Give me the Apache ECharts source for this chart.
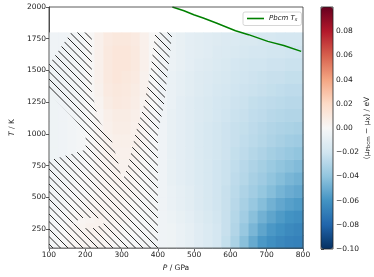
<!DOCTYPE html>
<html><head><meta charset="utf-8">
<script src="https://cdn.jsdelivr.net/npm/echarts@6/dist/echarts.min.js"></script>
<style>html,body{margin:0;padding:0;background:#fff}#c{width:374px;height:277px}</style>
</head><body><div id="c"></div>
<script>
// cell centres (GPa, K)
const pressures = [112.5,137.5,162.5,187.5,212.5,237.5,262.5,287.5,312.5,337.5,362.5,387.5,412.5,437.5,462.5,487.5,512.5,537.5,562.5,587.5,612.5,637.5,662.5,687.5,712.5,737.5,762.5,787.5];
const temperatures = [150,250,350,450,550,650,750,850,950,1050,1150,1250,1350,1450,1550,1650,1750];
// mu_Pbcm - mu_X (eV), one row per temperature (bottom to top)
const deltaMu = [
 [-0.002,0.000,0.002,0.003,0.003,0.003,0.002,0.001,0.000,-0.001,-0.002,-0.003,-0.004,-0.005,-0.007,-0.009,-0.012,-0.015,-0.018,-0.024,-0.032,-0.042,-0.051,-0.058,-0.062,-0.065,-0.067,-0.068],
 [-0.002,0.000,0.002,0.003,0.004,0.004,0.003,0.002,0.001,0.000,-0.001,-0.002,-0.004,-0.005,-0.007,-0.009,-0.012,-0.015,-0.018,-0.023,-0.030,-0.038,-0.046,-0.053,-0.058,-0.061,-0.064,-0.066],
 [-0.002,-0.001,0.001,0.002,0.003,0.004,0.003,0.003,0.002,0.000,-0.001,-0.002,-0.004,-0.006,-0.008,-0.010,-0.013,-0.016,-0.019,-0.023,-0.029,-0.035,-0.042,-0.048,-0.053,-0.057,-0.060,-0.062],
 [-0.003,-0.002,0.000,0.001,0.002,0.003,0.003,0.003,0.002,0.001,-0.001,-0.002,-0.004,-0.007,-0.009,-0.011,-0.014,-0.017,-0.020,-0.023,-0.028,-0.033,-0.038,-0.043,-0.048,-0.052,-0.055,-0.057],
 [-0.003,-0.002,-0.001,0.000,0.001,0.002,0.003,0.003,0.003,0.002,0.000,-0.002,-0.004,-0.007,-0.009,-0.011,-0.014,-0.017,-0.020,-0.023,-0.027,-0.031,-0.035,-0.039,-0.043,-0.047,-0.050,-0.052],
 [-0.004,-0.003,-0.002,0.000,0.001,0.002,0.003,0.004,0.003,0.002,0.000,-0.002,-0.004,-0.008,-0.010,-0.012,-0.015,-0.017,-0.020,-0.022,-0.026,-0.029,-0.033,-0.036,-0.040,-0.043,-0.046,-0.048],
 [-0.004,-0.003,-0.002,-0.001,0.000,0.002,0.003,0.004,0.004,0.003,0.001,-0.002,-0.004,-0.008,-0.010,-0.012,-0.015,-0.017,-0.020,-0.022,-0.025,-0.028,-0.031,-0.034,-0.037,-0.040,-0.042,-0.044],
 [-0.005,-0.004,-0.003,-0.002,0.000,0.002,0.004,0.005,0.005,0.004,0.001,-0.001,-0.004,-0.008,-0.010,-0.012,-0.015,-0.017,-0.019,-0.021,-0.024,-0.026,-0.029,-0.031,-0.034,-0.036,-0.038,-0.040],
 [-0.005,-0.004,-0.003,-0.002,0.000,0.002,0.004,0.006,0.006,0.005,0.002,-0.001,-0.004,-0.008,-0.010,-0.012,-0.015,-0.017,-0.019,-0.021,-0.023,-0.025,-0.027,-0.029,-0.031,-0.033,-0.035,-0.036],
 [-0.005,-0.004,-0.003,-0.002,0.000,0.002,0.005,0.007,0.007,0.005,0.002,-0.001,-0.004,-0.008,-0.010,-0.012,-0.015,-0.017,-0.019,-0.021,-0.023,-0.024,-0.026,-0.028,-0.030,-0.031,-0.032,-0.033],
 [-0.005,-0.004,-0.003,-0.002,0.000,0.002,0.006,0.008,0.008,0.006,0.002,-0.001,-0.004,-0.008,-0.010,-0.012,-0.014,-0.016,-0.018,-0.020,-0.022,-0.023,-0.025,-0.026,-0.028,-0.029,-0.030,-0.030],
 [-0.005,-0.004,-0.003,-0.002,0.000,0.003,0.008,0.010,0.009,0.007,0.003,0.000,-0.004,-0.007,-0.010,-0.012,-0.014,-0.016,-0.018,-0.019,-0.021,-0.022,-0.024,-0.025,-0.026,-0.027,-0.028,-0.028],
 [-0.005,-0.004,-0.003,-0.002,0.001,0.004,0.009,0.011,0.010,0.008,0.004,0.000,-0.004,-0.007,-0.009,-0.011,-0.013,-0.015,-0.017,-0.018,-0.020,-0.021,-0.022,-0.023,-0.024,-0.025,-0.026,-0.026],
 [-0.005,-0.004,-0.003,-0.002,0.001,0.005,0.010,0.012,0.011,0.009,0.004,0.000,-0.004,-0.007,-0.009,-0.011,-0.013,-0.014,-0.016,-0.017,-0.019,-0.020,-0.021,-0.022,-0.023,-0.023,-0.024,-0.024],
 [-0.004,-0.004,-0.003,-0.002,0.001,0.005,0.010,0.012,0.012,0.010,0.005,0.001,-0.003,-0.006,-0.008,-0.010,-0.012,-0.013,-0.015,-0.016,-0.018,-0.019,-0.020,-0.020,-0.021,-0.021,-0.022,-0.022],
 [-0.004,-0.004,-0.003,-0.002,0.001,0.005,0.010,0.012,0.012,0.010,0.005,0.001,-0.003,-0.006,-0.008,-0.010,-0.011,-0.012,-0.014,-0.015,-0.016,-0.017,-0.018,-0.018,-0.019,-0.019,-0.020,-0.020],
 [-0.004,-0.004,-0.003,-0.002,0.001,0.005,0.009,0.011,0.011,0.009,0.005,0.001,-0.003,-0.006,-0.008,-0.010,-0.011,-0.012,-0.013,-0.014,-0.015,-0.016,-0.016,-0.017,-0.017,-0.018,-0.018,-0.018]
];
// Pbcm stability temperature line
const tsP = [440,472,499,525,561,614,650,703,747,795];
const tsT = [2000,1970,1939,1913,1874,1813,1782,1729,1697,1650];
// hatched region outline (P, T)
const hatchP = [100,161,218,218,236,272,290,302,318,340,362,380,393,440,428,417,401,400,400,210,210,228,255,240,195,165,185,210,210,100,100,108,201,201,161,100];
const hatchT = [1545,1800,1800,1330,1111,954,780,620,750,1020,1230,1500,1800,1800,1500,1230,1020,1000,100,100,255,258,300,335,340,300,262,255,100,100,797,797,875,1019,1143,1322];
const yTicks = [250,500,750,1000,1250,1500,1750,2000];
const cbTicks = [-0.10,-0.08,-0.06,-0.04,-0.02,0.00,0.02,0.04,0.06,0.08];
const rdbuR = ['#053061','#2166ac','#4393c3','#92c5de','#d1e5f0','#f7f7f7','#fddbc7','#f4a582','#d6604d','#b2182b','#67001f'];

const cells = [];
temperatures.forEach((t, i) => pressures.forEach((p, j) => cells.push([p, t, deltaMu[i][j]])));
const dP = pressures[1] - pressures[0], dT = temperatures[1] - temperatures[0];

function makeHatch() {
  const c = document.createElement('canvas'); c.width = 15; c.height = 15;
  const g = c.getContext('2d'); g.strokeStyle = '#111'; g.lineWidth = 0.9;
  for (const o of [-15, -7.5, 0, 7.5, 15]) { g.beginPath(); g.moveTo(o - 1, -1); g.lineTo(o + 16, 16); g.stroke(); }
  return c;
}
const hatchImg = makeHatch();
const FONT = 'DejaVu Sans';
const fmtMinus = v => (v < -1e-9 ? '\u2212' : '') + Math.abs(v).toFixed(2);

const chart = echarts.init(document.getElementById('c'), null, {renderer: 'canvas'});
chart.setOption({
  animation: false,
  textStyle: {fontFamily: FONT},
  grid: [
    {left: 40, right: 71, top: 7, bottom: 28, show: true, borderColor: '#333', borderWidth: 0.8, z: 5, containLabel: false},
    {left: 321, top: 7, width: 12, height: 242, show: true, borderColor: '#222', borderWidth: 0.8, z: 10}
  ],
  xAxis: [
    {type: 'value', gridIndex: 0, min: 100, max: 800, interval: 100,
     axisLine: {show: true, lineStyle: {color: '#333', width: 0.8}},
     axisTick: {show: true, length: 3, lineStyle: {color: '#333', width: 0.8}},
     axisLabel: {fontSize: 7.5, color: '#222', margin: 3, fontFamily: FONT, formatter: v => String(v)},
     splitLine: {show: false},
     name: '{i|P} / GPa', nameLocation: 'middle', nameGap: 14,
     nameTextStyle: {fontSize: 7.5, color: '#222', fontFamily: FONT, rich: {i: {fontStyle: 'italic', fontSize: 7.5, fontFamily: FONT}}}},
    {type: 'value', gridIndex: 1, show: false, min: 0, max: 1}
  ],
  yAxis: [
    {type: 'value', gridIndex: 0, min: 100, max: 2000,
     axisLine: {show: true, lineStyle: {color: '#333', width: 0.8}},
     axisTick: {show: true, length: 3, customValues: yTicks, lineStyle: {color: '#333', width: 0.8}},
     axisLabel: {fontSize: 7.5, color: '#222', margin: 3, customValues: yTicks, fontFamily: FONT, formatter: v => String(v)},
     splitLine: {show: false},
     name: '{i|T} / K', nameLocation: 'middle', nameGap: 27, nameRotate: 90,
     nameTextStyle: {fontSize: 7.5, color: '#222', fontFamily: FONT, rich: {i: {fontStyle: 'italic', fontSize: 7.5, fontFamily: FONT}}}},
    {type: 'value', gridIndex: 1, min: -0.1, max: 0.1, position: 'right',
     axisLine: {show: false},
     axisTick: {show: true, length: 3, customValues: cbTicks, lineStyle: {color: '#333', width: 0.8}},
     axisLabel: {fontSize: 7.5, color: '#222', margin: 3, customValues: cbTicks, formatter: fmtMinus, fontFamily: FONT},
     splitLine: {show: false},
     name: '({m|\u03bc}{s|Pbcm} \u2212 {m|\u03bc}{s|X}) / eV', nameLocation: 'middle', nameGap: 30, nameRotate: 90,
     nameTextStyle: {fontSize: 7.5, color: '#222', fontFamily: FONT,
       rich: {m: {fontSize: 7.5, fontFamily: FONT}, s: {fontSize: 5.5, fontFamily: FONT, verticalAlign: 'bottom', padding: [3, 0, 0, 0]}}}}
  ],
  visualMap: {
    type: 'continuous', min: -0.1, max: 0.1, dimension: 2, seriesIndex: 0,
    inRange: {color: rdbuR}, orient: 'vertical', left: 321, top: 7, itemWidth: 12, itemHeight: 242,
    calculable: false, text: ['', ''], padding: 0, hoverLink: false, showLabel: false
  },
  legend: {
    left: 243, top: 12, padding: [3, 4, 3, 4], itemWidth: 17, itemHeight: 1.6,
    borderColor: '#ccc', borderWidth: 0.8, borderRadius: 2, backgroundColor: '#fff',
    data: [{name: 'Ts', icon: 'rect'}],
    formatter: () => '{i|Pbcm} {i|T}{s|s}',
    textStyle: {fontSize: 7, color: '#222', fontFamily: FONT,
      rich: {i: {fontStyle: 'italic', fontSize: 7, fontFamily: FONT}, s: {fontStyle: 'italic', fontSize: 5, fontFamily: FONT, padding: [3, 0, 0, 0]}}}
  },
  series: [
    {type: 'custom', name: 'delta', xAxisIndex: 0, yAxisIndex: 0, data: cells, z: 1, silent: true,
     encode: {x: 0, y: 1},
     renderItem: (params, api) => {
       const p = api.value(0), t = api.value(1);
       const c1 = api.coord([p - dP / 2, t + dT / 2]);
       const s = api.size([dP, dT]);
       return {type: 'rect', shape: {x: c1[0], y: c1[1], width: s[0] + 0.6, height: s[1] + 0.6}, style: {fill: api.visual('color')}};
     }},
    {type: 'custom', name: 'hatch', xAxisIndex: 0, yAxisIndex: 0, data: [[hatchP[0], hatchT[0]]], z: 3, silent: true,
     renderItem: (params, api) => {
       const pts = hatchP.map((p, i) => api.coord([p, hatchT[i]]));
       return {type: 'polygon', shape: {points: pts}, style: {fill: {image: hatchImg, repeat: 'repeat'}, stroke: null}};
     }},
    {type: 'line', name: 'Ts', xAxisIndex: 0, yAxisIndex: 0, data: tsP.map((p, i) => [p, tsT[i]]),
     symbol: 'none', z: 4, lineStyle: {color: '#008000', width: 1.5}, itemStyle: {color: '#008000'}}
  ]
});
</script></body></html>
